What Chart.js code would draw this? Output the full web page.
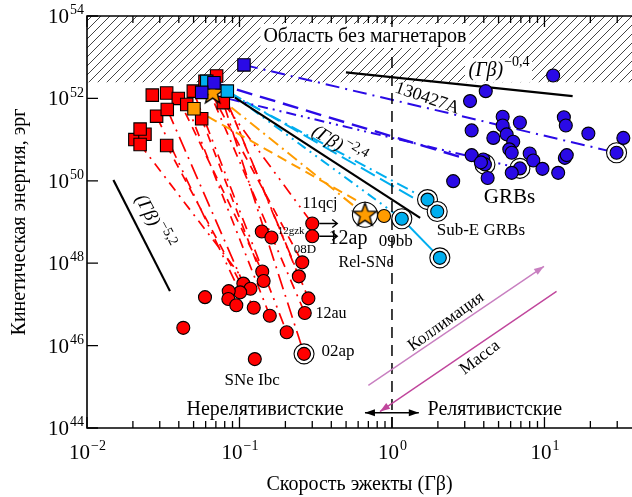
<!DOCTYPE html>
<html>
<head>
<meta charset="utf-8">
<script src="https://cdn.jsdelivr.net/npm/chart.js@4.4.1/dist/chart.umd.min.js"></script>
<style>
  html, body { margin: 0; padding: 0; overflow: hidden; background: #fff; }
</style>
</head>
<body>
<canvas id="c" width="632" height="497"></canvas>
<script>
'use strict';

// ---- data: [Γβ, kinetic energy in erg] ----
const sneIbcLate = [
    [0.300, 9.2e48], [0.300, 4.5e48], [0.140, 5.9e48], [0.162, 4.2e48], [0.258, 1.05e48],
    [0.245, 4.8e47], [0.141, 6.3e47], [0.144, 3.7e47], [0.106, 3.2e47], [0.118, 2.4e47],
    [0.101, 1.96e47], [0.085, 2.1e47], [0.0845, 1.35e47], [0.0953, 9.5e46], [0.0594, 1.5e47],
    [0.124, 8.3e46], [0.158, 5.3e46], [0.283, 1.4e47], [0.268, 6.2e46], [0.0428, 2.7e46],
    [0.204, 2.1e46], [0.265, 6.3e45], [0.126, 4.7e45]
];
const sneIbcEarly = [
    [0.0268, 1.2e52], [0.0333, 1.35e52], [0.0397, 1.0e52], [0.0286, 3.7e51], [0.0336, 5.4e51],
    [0.0451, 7.1e51], [0.0498, 1.5e52], [0.0565, 3.2e51], [0.0333, 7.2e50], [0.0206, 1.0e51],
    [0.024, 1.35e51], [0.0223, 1.8e51], [0.0223, 7.6e50], [0.0708, 3.5e52], [0.0594, 2.6e52],
    [0.0783, 7.9e51]
];
const grbEarly = [[0.107, 6.5e52], [0.068, 2.4e52], [0.0565, 1.4e52]];
const subEEarly = [[0.061, 2.6e52], [0.0832, 1.5e52]];
const relEarly = [[0.0503, 5.6e51]];
const relStars = [[0.0667, 1.4e52], [0.665, 1.5e49]];
const relLate = [[0.887, 1.4e49]];
const subELate = [[1.16, 1.2e49], [1.71, 3.5e49], [1.98, 1.8e49], [2.06, 1.35e48]];
const grbLate = [
    [11.4, 3.6e52], [4.12, 1.5e52], [3.25, 8.6e51], [5.32, 3.6e51], [6.9, 2.6e51],
    [5.32, 2.2e51], [3.33, 1.67e51], [4.62, 1.1e51], [5.65, 1.34e51], [6.24, 8.9e50],
    [5.88, 5.8e50], [6.1, 4.8e50], [13.4, 3.5e51], [13.8, 2.2e51], [19.4, 1.4e51],
    [32.9, 1.1e51], [29.7, 4.8e50], [3.33, 4.2e50], [3.97, 3.3e50], [4.07, 2.5e50],
    [3.83, 2.8e50], [8.0, 4.6e50], [8.45, 3.1e50], [6.9, 2.0e50], [6.1, 1.56e50],
    [9.7, 1.95e50], [12.3, 1.56e50], [13.6, 3.6e50], [14.0, 4.2e50], [4.24, 1.17e50],
    [2.52, 9.8e49]
];
const ringed = [
    [1.16, 1.2e49], [1.71, 3.5e49], [1.98, 1.8e49], [2.06, 1.35e48],
    [29.7, 4.8e50], [4.07, 2.5e50], [6.9, 2.0e50], [0.265, 6.3e45]
];
const ringedStar = [[0.665, 1.5e49]];

// tracks from early to late epochs
const sneTracks = [
    [[0.0223, 7.6e50], [0.118, 2.4e47]],
    [[0.0333, 7.2e50], [0.124, 8.3e46]],
    [[0.0286, 3.7e51], [0.101, 1.96e47]],
    [[0.0336, 5.4e51], [0.106, 3.2e47]],
    [[0.0451, 7.1e51], [0.158, 5.3e46]],
    [[0.0565, 3.2e51], [0.144, 3.7e47]],
    [[0.0498, 1.5e52], [0.204, 2.1e46]],
    [[0.0783, 7.9e51], [0.265, 6.3e45]],
    [[0.0708, 3.5e52], [0.245, 4.8e47]],
    [[0.0594, 2.6e52], [0.258, 1.05e48]],
    [[0.0783, 7.9e51], [0.300, 9.2e48]],
    [[0.0708, 3.5e52], [0.283, 1.4e47]],
    [[0.0594, 2.6e52], [0.268, 6.2e46]],
    [[0.0397, 1.0e52], [0.141, 6.3e47]]
];
const grbTracks = [
    [[0.107, 6.5e52], [29.7, 4.8e50]],
    [[0.0565, 1.4e52], [6.9, 2.0e50]],
    [[0.068, 2.4e52], [4.07, 2.5e50]]
];
const subETracks = [
    [[0.061, 2.6e52], [1.71, 3.5e49]],
    [[0.0832, 1.5e52], [1.98, 1.8e49]],
    [[0.0832, 1.5e52], [1.16, 1.2e49]],
    [[1.16, 1.2e49], [2.06, 1.35e48]]
];
const relTracks = [
    [[0.0503, 5.6e51], [0.887, 1.4e49]],
    [[0.0667, 1.4e52], [0.665, 1.5e49]]
];
const slope04 = [[0.499, 4.3e52], [15.3, 1.14e52]];
const slope24 = [[0.0934, 1.04e52], [1.53, 1.26e49]];
const slope52 = [[0.0149, 1.05e50], [0.035, 2.1e47]];
const magnetarLimit = 2.45e52;
const xRange = [0.01, 37.5];
const yRange = [1e44, 1e54];
const xTicks = [[0.01, '−2'], [0.1, '−1'], [1, '0'], [10, '1']];
const yTicks = [[1e44, '44'], [1e46, '46'], [1e48, '48'], [1e50, '50'], [1e52, '52'], [1e54, '54']];

// ---- annotations (anchored in data space) ----
const notes = [
    {text: 'Область без магнетаров', at: [0.665, 3.2e53], size: 20, box: true},
    {text: '(Γβ)', sup: '−0,4', at: [5.0, 4.8e52], size: 20, italic: true, box: true},
    {text: '130427A', at: [1.70, 1e52], size: 18, angle: 19},
    {text: '(Γβ)', sup: '−2,4', at: [0.443, 7.2e50], size: 19, italic: true, angle: 32},
    {text: '(Γβ)', sup: '−5,2', at: [0.0271, 1.02e49], size: 19, italic: true, angle: 62},
    {text: 'GRBs', at: [5.9, 3.9e49], size: 21},
    {text: 'Sub-E GRBs', at: [3.83, 6.2e48], size: 17},
    {text: '09bb', at: [1.06, 3.35e48], size: 17},
    {text: '12ap', at: [0.515, 3.96e48], size: 20},
    {text: 'Rel-SNe', at: [0.676, 1.04e48], size: 16},
    {text: '11qcj', at: [0.337, 2.8e49], size: 16},
    {text: '12gzk', at: [0.218, 5.9e48], size: 11},
    {text: '08D', at: [0.269, 2.14e48], size: 13},
    {text: '12au', at: [0.398, 5.96e46], size: 16},
    {text: '02ap', at: [0.443, 7.1e45], size: 17},
    {text: 'SNe Ibc', at: [0.121, 1.4e45], size: 17},
    {text: 'Нерелятивистские', at: [0.147, 2.77e44], size: 20},
    {text: 'Релятивистские', at: [4.73, 2.77e44], size: 20},
    {text: 'Коллимация', at: [2.26, 3.8e46], size: 17, angle: -35.7},
    {text: 'Масса', at: [3.78, 5.1e45], size: 17, angle: -37}
];
const arrows = [
    {from: [0.665, 2.34e44], to: [1.50, 2.34e44], color: '#000', both: true},
    {from: [0.70, 1.08e45], to: [9.93, 8.4e47], color: '#c87fc0'},
    {from: [12.0, 2.07e47], to: [0.834, 2.5e44], color: '#c0469c'}
];
const lowerLimits = [[0.300, 9.2e48], [0.300, 4.5e48]];

const SERIF = '"Liberation Serif", "Times New Roman", serif';
const RED = '#ff0000', BLUE = '#2a0ae6', CYAN = '#00aeef', ORANGE = '#ff9c00';

function font (size, italic)
{
    return (italic ? 'italic ' : '') + size + 'px ' + SERIF;
}

function xy (arr)
{
    return arr.map(([x, y]) => ({x, y}));
}

function line (pts, color, dash, width, order)
{
    return {
        type: 'line', data: xy(pts), borderColor: color, borderDash: dash || [],
        borderWidth: width || 2, pointRadius: 0, fill: false, order: order || 10
    };
}

function marks (pts, style, color, radius, order)
{
    return {
        type: 'scatter', data: xy(pts), pointStyle: style, pointRadius: radius,
        backgroundColor: color, pointBackgroundColor: color, pointBorderColor: '#000',
        pointBorderWidth: 1.1, order: order || 2
    };
}

function starImage ()
{
    const c = document.createElement('canvas');
    c.width = c.height = 27;
    const g = c.getContext('2d');
    g.beginPath();
    for (let i = 0; i < 10; i++)
    {
        const r = i % 2 ? 5.1 : 12.2;
        const a = -Math.PI / 2 + i * Math.PI / 5;
        g.lineTo(13.5 + r * Math.cos(a), 14 + r * Math.sin(a));
    }
    g.closePath();
    g.fillStyle = ORANGE;
    g.fill();
    g.lineWidth = 1.4;
    g.strokeStyle = '#000';
    g.stroke();
    return c;
}

function hatch ()
{
    const c = document.createElement('canvas');
    c.width = c.height = 9;
    const g = c.getContext('2d');
    g.fillStyle = '#fff';
    g.fillRect(0, 0, 9, 9);
    g.strokeStyle = '#444';
    g.lineWidth = 1;
    g.beginPath();
    g.moveTo(0, 9); g.lineTo(9, 0);
    g.moveTo(-1, 1); g.lineTo(1, -1);
    g.moveTo(8, 10); g.lineTo(10, 8);
    g.stroke();
    return g.createPattern(c, 'repeat');
}

function drawPow (ctx, base, sup, x, y, size, supSize, align, italic)
{
    ctx.font = font(size, italic);
    const w1 = ctx.measureText(base).width;
    ctx.font = font(supSize);
    const w2 = sup ? ctx.measureText(sup).width : 0;
    let x0 = x;
    if (align === 'right') x0 = x - w1 - w2;
    if (align === 'center') x0 = x - (w1 + w2) / 2;
    ctx.textAlign = 'left';
    ctx.font = font(size, italic);
    ctx.fillText(base, x0, y);
    if (sup)
    {
        ctx.font = font(supSize);
        ctx.fillText(sup, x0 + w1 + 1, y - size * 0.42);
    }
    return w1 + w2;
}

function arrowHead (ctx, x1, y1, x2, y2, len, half)
{
    const a = Math.atan2(y2 - y1, x2 - x1);
    ctx.beginPath();
    ctx.moveTo(x2, y2);
    ctx.lineTo(x2 - len * Math.cos(a) + half * Math.sin(a), y2 - len * Math.sin(a) - half * Math.cos(a));
    ctx.lineTo(x2 - len * Math.cos(a) - half * Math.sin(a), y2 - len * Math.sin(a) + half * Math.cos(a));
    ctx.closePath();
    ctx.fill();
}

const decor = {
    id: 'decor',
    afterDraw (chart)
    {
        const {ctx, chartArea: a, scales: {x, y}} = chart;
        const P = ([vx, vy]) => [x.getPixelForValue(vx), y.getPixelForValue(vy)];
        ctx.save();
        ctx.fillStyle = '#000';
        ctx.strokeStyle = '#000';

        // annotations
        ctx.textBaseline = 'middle';
        for (const n of notes)
        {
            const [X, Y] = P(n.at);
            ctx.save();
            ctx.translate(X, Y);
            ctx.rotate((n.angle || 0) * Math.PI / 180);
            const supSize = Math.round(n.size * 0.72);
            ctx.font = font(n.size, n.italic);
            let w = ctx.measureText(n.text).width;
            if (n.sup)
            {
                ctx.font = font(supSize);
                w += ctx.measureText(n.sup).width + 1;
            }
            if (n.box)
            {
                ctx.fillStyle = '#fff';
                ctx.fillRect(-w / 2 - 3, -n.size * 0.62, w + 6, n.size * 1.2);
                ctx.fillStyle = '#000';
            }
            drawPow(ctx, n.text, n.sup, 0, 0, n.size, supSize, 'center', n.italic);
            ctx.restore();
        }

        // arrows
        ctx.lineWidth = 1.4;
        for (const ar of arrows)
        {
            const [x1, y1] = P(ar.from), [x2, y2] = P(ar.to);
            ctx.strokeStyle = ar.color;
            ctx.fillStyle = ar.color;
            ctx.beginPath();
            ctx.moveTo(x1, y1);
            ctx.lineTo(x2, y2);
            ctx.stroke();
            arrowHead(ctx, x1, y1, x2, y2, 10, 3.5);
            if (ar.both) arrowHead(ctx, x2, y2, x1, y1, 10, 3.5);
        }
        ctx.strokeStyle = '#000';
        ctx.fillStyle = '#000';
        for (const p of lowerLimits)
        {
            const [X, Y] = P(p);
            ctx.beginPath();
            ctx.moveTo(X + 7, Y);
            ctx.lineTo(X + 25, Y);
            ctx.moveTo(X + 20, Y - 4);
            ctx.lineTo(X + 25, Y);
            ctx.lineTo(X + 20, Y + 4);
            ctx.stroke();
        }

        // frame (right edge is outside the picture) and inward ticks
        ctx.lineWidth = 1.6;
        ctx.beginPath();
        ctx.moveTo(a.right + 2, a.top);
        ctx.lineTo(a.left, a.top);
        ctx.lineTo(a.left, a.bottom);
        ctx.lineTo(a.right + 2, a.bottom);
        ctx.stroke();
        ctx.lineWidth = 1.3;
        ctx.beginPath();
        for (let e = -2; e <= 1; e++)
        {
            for (let m = 1; m <= 9; m++)
            {
                const v = m * Math.pow(10, e);
                if (v > x.max) break;
                const X = x.getPixelForValue(v), len = m === 1 ? 11 : 7;
                ctx.moveTo(X, a.bottom); ctx.lineTo(X, a.bottom - len);
                ctx.moveTo(X, a.top); ctx.lineTo(X, a.top + len);
            }
        }
        for (const [v] of yTicks)
        {
            const Y = y.getPixelForValue(v);
            ctx.moveTo(a.left, Y); ctx.lineTo(a.left + 11, Y);
        }
        ctx.stroke();

        // tick labels with exponents
        ctx.textBaseline = 'alphabetic';
        for (const [v, s] of xTicks)
        {
            drawPow(ctx, '10', s, x.getPixelForValue(v), a.bottom + 31, 21, 14, 'center');
        }
        for (const [v, s] of yTicks)
        {
            drawPow(ctx, '10', s, a.left - 4, y.getPixelForValue(v) + 7, 21, 14, 'right');
        }
        ctx.restore();
    }
};

const datasets = [];
datasets.push(marks(relStars, starImage(), ORANGE, 12, 0));
datasets.push(marks(relLate, 'circle', ORANGE, 6.5, 1));
datasets.push(marks(subELate, 'circle', CYAN, 6.5, 1));
datasets.push(marks(grbLate, 'circle', BLUE, 6.5, 2));
datasets.push(marks(sneIbcLate, 'circle', RED, 6.5, 2));
datasets.push(marks(grbEarly, 'rect', BLUE, 8.8, 1));
datasets.push(marks(subEEarly, 'rect', CYAN, 8.8, 1));
datasets.push(marks(relEarly, 'rect', ORANGE, 8.8, 1));
datasets.push(marks(sneIbcEarly, 'rect', RED, 8.8, 2));
datasets.push(marks(ringedStar, 'circle', '#fff', 12.5, 4));
datasets.push(marks(ringed, 'circle', '#fff', 10, 4));
datasets.push(line(slope04, '#000', [], 2.2, 8));
datasets.push(line(slope24, '#000', [], 2.2, 8));
datasets.push(line(slope52, '#000', [], 2.2, 8));
datasets.push(line([[1, yRange[0]], [1, yRange[1]]], '#000', [11, 7], 1.5, 9));
const redDash = [[10, 6, 2, 6], [9, 7], [12, 6, 2, 6, 2, 6], [16, 6, 2, 6]];
sneTracks.forEach((t, i) => datasets.push(line(t, RED, redDash[i % redDash.length], 1.7, 12)));
datasets.push(line(grbTracks[0], BLUE, [14, 6, 2, 6], 2, 11));
datasets.push(line(grbTracks[1], BLUE, [10, 5, 2, 5, 2, 5], 2, 11));
datasets.push(line(grbTracks[2], BLUE, [16, 8], 2.4, 11));
datasets.push(line(subETracks[0], CYAN, [12, 5, 2, 5], 2, 11));
datasets.push(line(subETracks[1], CYAN, [16, 6], 2, 11));
datasets.push(line(subETracks[2], CYAN, [10, 5, 2, 5, 2, 5], 2, 11));
datasets.push(line(subETracks[3], CYAN, [], 2, 11));
datasets.push(line(relTracks[0], ORANGE, [10, 6], 2, 11));
datasets.push(line(relTracks[1], ORANGE, [12, 5, 2, 5], 2, 11));
datasets.push({
    type: 'line', data: xy([[xRange[0], magnetarLimit], [xRange[1], magnetarLimit]]),
    borderWidth: 0, borderColor: 'rgba(0,0,0,0)', pointRadius: 0,
    fill: 'end', backgroundColor: hatch(), order: 30
});

new Chart(document.getElementById('c'), {
    type: 'scatter',
    data: {datasets},
    options: {
        responsive: false,
        animation: false,
        layout: {autoPadding: false, padding: {top: 16, right: 0, left: 0, bottom: 0}},
        plugins: {legend: {display: false}, tooltip: {enabled: false}},
        scales: {
            x: {
                type: 'logarithmic', min: xRange[0], max: xRange[1],
                grid: {display: false}, border: {display: false}, ticks: {display: false},
                title: {display: true, text: 'Скорость эжекты (Γβ)', color: '#000',
                        font: {family: SERIF, size: 20}, padding: {top: 0, bottom: 0}},
                afterFit: s => { s.height = 69; }
            },
            y: {
                type: 'logarithmic', min: yRange[0], max: yRange[1],
                grid: {display: false}, border: {display: false}, ticks: {display: false},
                title: {display: true, text: 'Кинетическая энергия, эрг', color: '#000',
                        font: {family: SERIF, size: 20}, padding: {top: 8, bottom: 0}},
                afterFit: s => { s.width = 87; }
            }
        }
    },
    plugins: [decor]
});
</script>
</body>
</html>
